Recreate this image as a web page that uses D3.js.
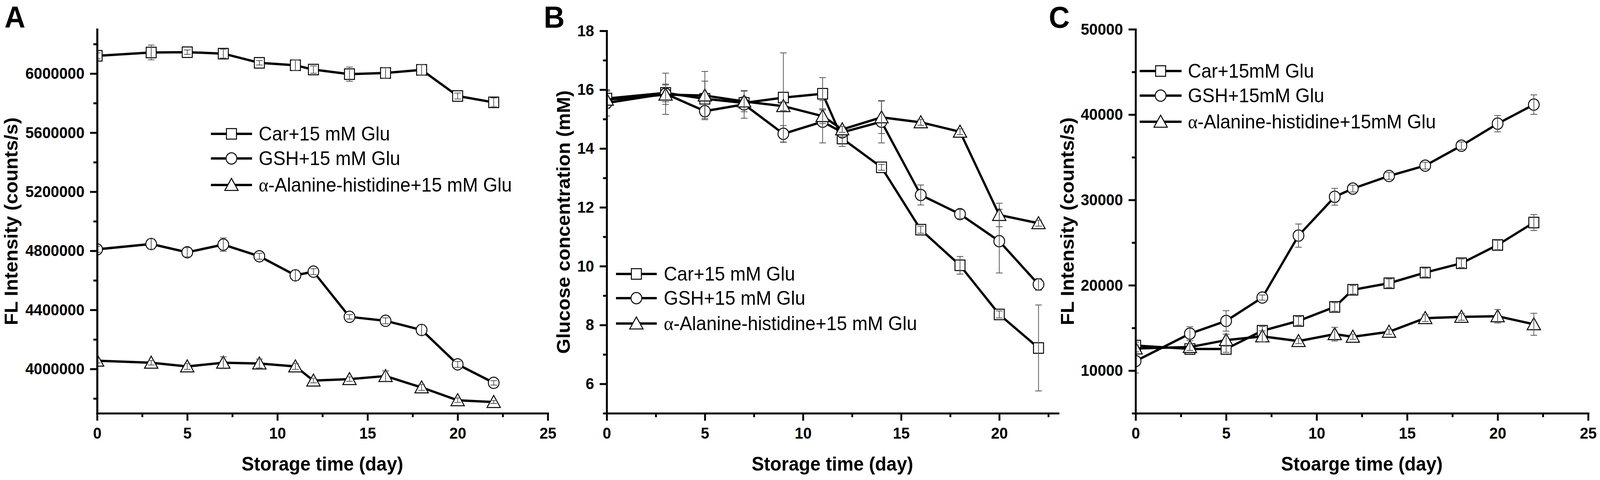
<!DOCTYPE html>
<html>
<head>
<meta charset="utf-8">
<script src="https://cdn.jsdelivr.net/npm/d3@7"></script>
<style>
  html, body { margin: 0; padding: 0; background: #ffffff; width: 100%; height: 100%; overflow: hidden; }
  svg { display: block; width: 100vw; height: 100vh; }
</style>
</head>
<body>
<svg id="chart" viewBox="0 0 4317 1230" preserveAspectRatio="none"></svg>
<script>
// ---------------- DATA ----------------
const days = [0, 3, 5, 7, 9, 11, 12, 14, 16, 18, 20, 22];

const legendAB = ["Car+15 mM Glu", "GSH+15 mM Glu", "-Alanine-histidine+15 mM Glu"];
const legendC  = ["Car+15mM Glu", "GSH+15mM Glu", "-Alanine-histidine+15mM Glu"];

// Panel A: FL intensity (counts/s)
const aCar    = [6120000, 6143000, 6145000, 6135000, 6073000, 6056000, 6027000, 5996000, 6004000, 6025000, 5848000, 5805000];
const aCarErr = [20000, 50000, 15000, 30000, 15000, 35000, 25000, 48000, 35000, 35000, 20000, 30000];
const aGsh    = [4810000, 4846000, 4790000, 4842000, 4763000, 4634000, 4659000, 4353000, 4326000, 4264000, 4031000, 3906000];
const aGshErr = [20000, 35000, 31000, 45000, 20000, 35000, 20000, 15000, 20000, 35000, 20000, 15000];
const aTri    = [4056000, 4042000, 4017000, 4042000, 4037000, 4017000, 3921000, 3931000, 3952000, 3875000, 3788000, 3776000];
const aTriErr = [15000, 15000, 20000, 40000, 30000, 20000, 15000, 15000, 35000, 20000, 15000, 10000];

// Panel B: glucose concentration (mM)
const bCar    = [15.70, 15.89, 15.69, 15.55, 15.73, 15.86, 14.34, 13.36, 11.24, 10.03, 8.36, 7.22];
const bCarErr = [0.25, 0.30, 0.60, 0.20, 1.52, 0.55, 0.27, 0.10, 0.12, 0.30, 0.12, 1.46];
const bGsh    = [15.55, 15.86, 15.27, 15.50, 14.50, 14.91, 14.55, 14.91, 12.42, 11.77, 10.85, 9.38];
const bGshErr = [0.45, 0.70, 0.25, 0.47, 0.28, 0.72, 0.15, 0.72, 0.34, 0.15, 1.08, 0.20];
const bTri    = [15.66, 15.83, 15.80, 15.60, 15.44, 15.10, 14.65, 15.06, 14.89, 14.57, 11.74, 11.46];
const bTriErr = [0.30, 0.33, 0.82, 0.35, 0.15, 0.25, 0.10, 0.55, 0.10, 0.10, 0.40, 0.10];

// Panel C: FL intensity (counts/s)
const cCar    = [12930, 12540, 12540, 14670, 15820, 17460, 19470, 20240, 21490, 22580, 24720, 27350];
const cCarErr = [400, 400, 400, 500, 500, 500, 500, 500, 500, 500, 550, 940];
const cGsh    = [11120, 14330, 15820, 18560, 25820, 30370, 31330, 32810, 34020, 36360, 38940, 41170];
const cGshErr = [1400, 810, 1200, 300, 1360, 985, 400, 400, 400, 440, 960, 1140];
const cTri    = [12590, 12760, 13570, 14010, 13460, 14270, 13960, 14550, 16150, 16300, 16370, 15430];
const cTriErr = [400, 400, 700, 650, 300, 800, 300, 300, 400, 400, 790, 1290];

// Tick values
const xTicksAC = [0, 5, 10, 15, 20, 25];
const xTicksB  = [0, 5, 10, 15, 20];
const xMinor   = [2.5, 7.5, 12.5, 17.5, 22.5];
const aYTicks  = [4000000, 4400000, 4800000, 5200000, 5600000, 6000000];
const aYMinor  = [3800000, 4200000, 4600000, 5000000, 5400000, 5800000, 6200000];
const bYTicks  = [6, 8, 10, 12, 14, 16, 18];
const bYMinor  = [5, 7, 9, 11, 13, 15, 17];
const cYTicks  = [10000, 20000, 30000, 40000, 50000];
const cYMinor  = [5000, 15000, 25000, 35000, 45000];

// ---------------- LAYOUT ----------------
const svg = d3.select("#chart");
const BOTTOM = 1059;
const SANS = "'Liberation Sans', Arial, Helvetica, sans-serif";
const SERIF = "'Liberation Serif', 'Times New Roman', serif";
const shapes = ["square", "circle", "triangle"];

function markerPath(shape) {
  if (shape === "square") return "M-13.5,-13.5H13.5V13.5H-13.5Z";
  if (shape === "circle") return d3.arc()({innerRadius: 0, outerRadius: 14.5, startAngle: 0, endAngle: 2 * Math.PI});
  return "M0,-17L18,14H-18Z";
}

const panels = [
  {id: "A", label: "A", labelX: 12,
   left: 262, right: 1478, top: 75, xDomain: [0, 25], yDomain: [3700000, 6300000],
   xTicks: xTicksAC, yTicks: aYTicks, yMinor: aYMinor,
   series: [[aCar, aCarErr], [aGsh, aGshErr], [aTri, aTriErr]],
   yTitle: "FL Intensity (counts/s)", yTitleX: 47, xTitle: "Storage time (day)",
   legend: legendAB, leg: {x0: 569, x1: 680, tx: 698, rows: [343, 406, 474]}},
  {id: "B", label: "B", labelX: 1467,
   left: 1637, right: 2855, top: 79, xDomain: [0, 23], yDomain: [5, 18],
   xTicks: xTicksB, yTicks: bYTicks, yMinor: bYMinor,
   series: [[bCar, bCarErr], [bGsh, bGshErr], [bTri, bTriErr]],
   yTitle: "Glucose concentration (mM)", yTitleX: 1538, xTitle: "Storage time (day)",
   legend: legendAB, leg: {x0: 1662, x1: 1772, tx: 1791, rows: [702, 764, 829]}},
  {id: "C", label: "C", labelX: 2830,
   left: 3064, right: 4285, top: 75, xDomain: [0, 25], yDomain: [5000, 50000],
   xTicks: xTicksAC, yTicks: cYTicks, yMinor: cYMinor,
   series: [[cCar, cCarErr], [cGsh, cGshErr], [cTri, cTriErr]],
   yTitle: "FL Intensity (counts/s)", yTitleX: 2897, xTitle: "Stoarge time (day)",
   legend: legendC, leg: {x0: 3075, x1: 3188, tx: 3205, rows: [182, 245, 312]}}
];

function styleAxis(sel, fontSize) {
  sel.attr("font-family", SANS).attr("font-size", fontSize).attr("font-weight", "bold");
  sel.select(".domain").attr("stroke", "#000").attr("stroke-width", 5).attr("stroke-linecap", "square");
  sel.selectAll(".tick line").attr("stroke", "#000").attr("stroke-width", 5);
  sel.selectAll(".tick text").attr("fill", "#000");
}

panels.forEach(p => {
  const g = svg.append("g");
  const x = d3.scaleLinear().domain(p.xDomain).range([p.left, p.right]);
  const y = d3.scaleLinear().domain(p.yDomain).range([BOTTOM, p.top]);

  const clipId = "clip" + p.id;
  svg.append("clipPath").attr("id", clipId)
    .append("rect").attr("x", p.left).attr("y", 0)
    .attr("width", p.right - p.left + 80).attr("height", BOTTOM);

  const dataG = g.append("g").attr("clip-path", `url(#${clipId})`);
  const line = d3.line().x((d, i) => x(days[i])).y(d => y(d));

  p.series.forEach(([vals, errs], si) => {
    const sg = dataG.append("g");
    sg.append("path").datum(vals).attr("d", line)
      .attr("fill", "none").attr("stroke", "#000").attr("stroke-width", 6)
      .attr("stroke-linejoin", "round");
    sg.selectAll("path.mk").data(vals).enter().append("path").attr("class", "mk")
      .attr("d", markerPath(shapes[si]))
      .attr("transform", (d, i) => `translate(${x(days[i])},${y(d)})`)
      .attr("fill", "#fff").attr("stroke", "#000").attr("stroke-width", 2.5);
    const eb = sg.selectAll("g.eb").data(vals).enter().append("g").attr("class", "eb")
      .attr("stroke", "#555").attr("stroke-width", 2);
    eb.append("line")
      .attr("x1", (d, i) => x(days[i])).attr("x2", (d, i) => x(days[i]))
      .attr("y1", (d, i) => y(d - errs[i])).attr("y2", (d, i) => y(d + errs[i]));
    eb.append("line")
      .attr("x1", (d, i) => x(days[i]) - 9).attr("x2", (d, i) => x(days[i]) + 9)
      .attr("y1", (d, i) => y(d + errs[i])).attr("y2", (d, i) => y(d + errs[i]));
    eb.append("line")
      .attr("x1", (d, i) => x(days[i]) - 9).attr("x2", (d, i) => x(days[i]) + 9)
      .attr("y1", (d, i) => y(d - errs[i])).attr("y2", (d, i) => y(d - errs[i]));
  });

  // Axes: minor ticks
  g.append("g").attr("transform", `translate(0,${BOTTOM})`)
    .call(d3.axisBottom(x).tickValues(xMinor).tickSize(10).tickSizeOuter(0).tickFormat(""))
    .call(s => styleAxis(s, 41));
  g.append("g").attr("transform", `translate(${p.left},0)`)
    .call(d3.axisLeft(y).tickValues(p.yMinor.filter(v => v >= p.yDomain[0] && v <= p.yDomain[1]))
      .tickSize(10).tickSizeOuter(0).tickFormat(""))
    .call(s => styleAxis(s, 41));
  // Major ticks
  g.append("g").attr("transform", `translate(0,${BOTTOM})`)
    .call(d3.axisBottom(x).tickValues(p.xTicks).tickSize(19).tickSizeOuter(0).tickPadding(17).tickFormat(d3.format("d")))
    .call(s => styleAxis(s, 41));
  g.append("g").attr("transform", `translate(${p.left},0)`)
    .call(d3.axisLeft(y).tickValues(p.yTicks).tickSize(19).tickSizeOuter(0).tickPadding(15).tickFormat(d3.format("d")))
    .call(s => styleAxis(s, 41));

  // Axis titles
  g.append("text").attr("x", (p.left + p.right) / 2).attr("y", 1206)
    .attr("text-anchor", "middle").attr("font-family", SANS).attr("font-size", 50)
    .attr("font-weight", "bold").text(p.xTitle);
  g.append("text").attr("transform", `translate(${p.yTitleX},${(p.top + BOTTOM) / 2}) rotate(-90)`)
    .attr("text-anchor", "middle").attr("font-family", SANS).attr("font-size", 50)
    .attr("font-weight", "bold").text(p.yTitle);

  // Panel label
  g.append("text").attr("x", p.labelX).attr("y", 71)
    .attr("font-family", SANS).attr("font-size", 78).attr("font-weight", "bold").text(p.label);

  // Legend
  const L = p.leg;
  p.legend.forEach((name, si) => {
    const ry = L.rows[si];
    g.append("line").attr("x1", L.x0).attr("x2", L.x1).attr("y1", ry).attr("y2", ry)
      .attr("stroke", "#000").attr("stroke-width", 6);
    g.append("path").attr("d", markerPath(shapes[si]))
      .attr("transform", `translate(${(L.x0 + L.x1) / 2},${ry})`)
      .attr("fill", "#fff").attr("stroke", "#000").attr("stroke-width", 2.5);
    const t = g.append("text").attr("x", L.tx).attr("y", ry + 17)
      .attr("font-family", SANS).attr("font-size", 50).attr("fill", "#000");
    if (si === 2) {
      t.append("tspan").attr("font-family", SERIF).text("α");
      t.append("tspan").text(name);
    } else {
      t.text(name);
    }
  });
});
</script>
</body>
</html>
